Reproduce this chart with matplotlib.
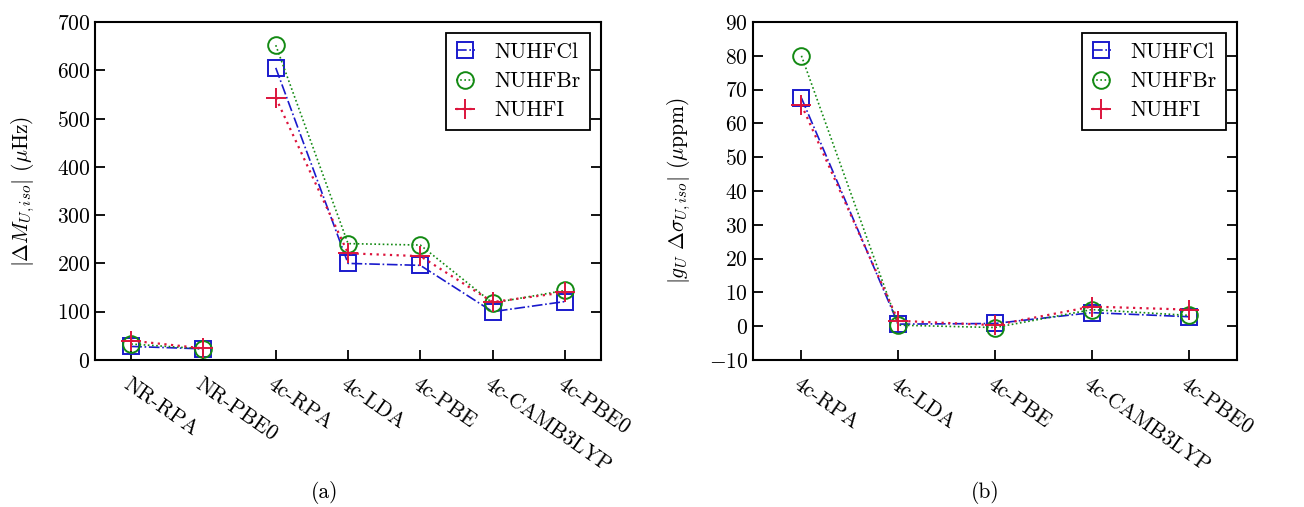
import numpy as np
import matplotlib
matplotlib.use("Agg")
import matplotlib.pyplot as plt

plt.rcParams['font.family'] = ['cmr10', 'DejaVu Serif']
plt.rcParams['mathtext.fontset'] = 'cm'
plt.rcParams['axes.formatter.use_mathtext'] = True
plt.rcParams['axes.unicode_minus'] = True

labels_a = ['NR-RPA', 'NR-PBE0', '4c-RPA', '4c-LDA', '4c-PBE', '4c-CAMB3LYP', '4c-PBE0']
cl_a = [28, 23, 605, 200, 196, 100, 121]
br_a = [33, 23, 652, 241, 238, 118, 144]
i_a = [40, 24, 543, 221, 215, 120, 140]
# NR points and 4c points are drawn as separate segments
groups_a = [(0, 2), (2, 7)]

labels_b = ['4c-RPA', '4c-LDA', '4c-PBE', '4c-CAMB3LYP', '4c-PBE0']
cl_b = [67.5, 0.6, 0.8, 4.0, 2.8]
br_b = [80.0, 0.3, -0.4, 4.9, 3.2]
i_b = [65.5, 1.6, 0.3, 5.8, 4.9]
groups_b = [(0, 5)]

names = ['NUHFCl', 'NUHFBr', 'NUHFI']
blue = '#1a1acc'
green = '#138a13'
red = '#dc143c'
fs = 15.5

fig = plt.figure(figsize=(13.04, 5.07), dpi=100)
ax1 = fig.add_axes([0.0729, 0.290, 0.388, 0.6666])
ax2 = fig.add_axes([0.5775, 0.290, 0.3711, 0.6666])


def draw(ax, labels, cl, br, ii, groups):
    x = np.arange(len(labels))
    for k, (a, b) in enumerate(groups):
        lab = (lambda n: n) if k == 0 else (lambda n: '_' + n)
        ax.plot(x[a:b], cl[a:b], linestyle='-.', color=blue, marker='s', ms=11.5, mfc='none',
                mew=1.4, lw=1.2, label=lab(names[0]))
        ax.plot(x[a:b], br[a:b], linestyle=(0, (1, 1.5)), color=green, marker='o', ms=12,
                mfc='none', mew=1.4, lw=1.2, label=lab(names[1]))
        ax.plot(x[a:b], ii[a:b], linestyle=(0, (1, 2)), color=red, marker='+', ms=15,
                mew=1.4, lw=1.6, label=lab(names[2]))
    ax.set_xticks(x)
    ax.set_xticklabels(labels, rotation=-35, ha='left', rotation_mode='anchor', fontsize=fs)
    ax.set_xlim(-0.5, len(labels) - 0.5)
    ax.tick_params(axis='y', which='both', direction='in', left=True, right=True,
                   length=7, width=1.3, labelsize=fs)
    ax.tick_params(axis='x', direction='in', top=False, length=7, width=1.3, pad=10)
    for s in ax.spines.values():
        s.set_linewidth(1.5)
    leg = ax.legend(loc='upper right', fontsize=fs, fancybox=False, edgecolor='black',
                    framealpha=1, borderpad=0.45, handlelength=0.9, handletextpad=0.9,
                    labelspacing=0.45, borderaxespad=0.5)
    leg.get_frame().set_linewidth(1.3)


draw(ax1, labels_a, cl_a, br_a, i_a, groups_a)
ax1.set_ylim(0, 700)
ax1.set_yticks(range(0, 701, 100))
ax1.set_ylabel(r'$|\Delta M_{U,iso}|$ ($\mu$Hz)', fontsize=fs, labelpad=14)

draw(ax2, labels_b, cl_b, br_b, i_b, groups_b)
ax2.set_ylim(-10, 90)
ax2.set_yticks(range(-10, 91, 10))
ax2.set_ylabel(r'$|g_U\ \Delta\sigma_{U,iso}|$ ($\mu$ppm)', fontsize=fs, labelpad=11)

fig.text(325 / 1304, 1 - 493 / 507, '(a)', ha='center', va='center', fontsize=fs)
fig.text(985 / 1304, 1 - 493 / 507, '(b)', ha='center', va='center', fontsize=fs)

fig.savefig('out.png', dpi=100)
